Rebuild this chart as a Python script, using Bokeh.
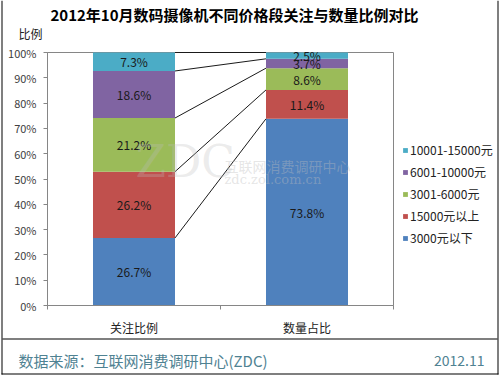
from bokeh.plotting import figure
from bokeh.models import (ColumnDataSource, Range1d, FixedTicker, NumeralTickFormatter,
                          Legend, LegendItem, Label, BoxAnnotation)
from bokeh.core.properties import value
from bokeh.embed import file_html
from bokeh.resources import INLINE

# ---- data ----
categories = ["关注比例", "数量占比"]
series = ["3000元以下", "15000元以上", "3001-6000元", "6001-10000元", "10001-15000元"]
colors = ["#4F81BD", "#C0504D", "#9BBB59", "#8064A2", "#4BACC6"]
attention = [26.7, 26.2, 21.2, 18.6, 7.3]
quantity = [73.8, 11.4, 8.6, 3.7, 2.5]
y_ticks = [0, 10, 20, 30, 40, 50, 60, 70, 80, 90, 100]
title_text = "2012年10月数码摄像机不同价格段关注与数量比例对比"
y_title = "比例"
source_text = "数据来源：互联网消费调研中心(ZDC)"
date_text = "2012.11"

CJK = "Noto Sans CJK SC"
W, H = 500, 375
FL, FT, FR, FB = 47, 52, 393, 305  # plot-area edges in page pixels
XPX = (FR - FL) / 2.0   # pixels per x unit (2 categories)
YPX = (FB - FT) / 1.0   # pixels per y unit (0..100%)

def sx(px):
    return px

def sy(py):
    return H - py

def label(px, py, text, **kw):
    return Label(x=sx(px), y=sy(py), x_units="screen", y_units="screen", text=text, **kw)

xs = [0.5, 1.5]
bar_w = 0.474
keys = [f"s{i}" for i in range(len(series))]
data = {"x": xs}
for i, k in enumerate(keys):
    data[k] = [attention[i] / 100, quantity[i] / 100]
src = ColumnDataSource(data)

x0 = -FL / XPX
y0 = -(H - FB) / YPX
p = figure(width=W, height=H, output_backend="svg", toolbar_location=None,
           x_range=Range1d(x0, x0 + W / XPX), y_range=Range1d(y0, y0 + H / YPX),
           min_border=0)
p.title.visible = False
p.background_fill_color = "white"
p.border_fill_color = "white"
p.outline_line_color = None
p.xgrid.visible = False
p.ygrid.visible = False

# plot-area border
p.quad(left=[0], right=[2], bottom=[0], top=[1], fill_color=None,
       line_color="#868686", line_width=1)

rs = p.vbar_stack(keys, x="x", width=bar_w, color=colors, source=src, line_width=0)

# axes (placed inside the canvas at the plot-area edges)
p.xaxis.fixed_location = 0
p.xaxis.bounds = (0, 2)
p.xaxis.ticker = FixedTicker(ticks=xs, minor_ticks=[0, 1, 2])
p.xaxis.major_label_overrides = {0.5: categories[0], 1.5: categories[1]}
p.xaxis.major_tick_out = 0
p.xaxis.major_tick_in = 0
p.xaxis.minor_tick_out = 4
p.xaxis.minor_tick_in = 0
p.xaxis.major_label_standoff = 9
p.xaxis.major_label_text_font = CJK
p.xaxis.major_label_text_font_size = "12px"
p.xaxis.major_label_text_color = "#222222"

p.yaxis.fixed_location = 0
p.yaxis.bounds = (0, 1)
p.yaxis.ticker = FixedTicker(ticks=[t / 100 for t in y_ticks])
p.yaxis.formatter = NumeralTickFormatter(format="0%")
p.yaxis.major_tick_out = 4
p.yaxis.major_tick_in = 0
p.yaxis.major_label_standoff = 7
p.yaxis.major_label_text_font = CJK
p.yaxis.major_label_text_font_size = "11px"
p.yaxis.major_label_text_color = "#404040"
for ax in (p.xaxis, p.yaxis):
    ax.axis_line_color = "#868686"
    ax.major_tick_line_color = "#868686"
    ax.minor_tick_line_color = "#868686"
p.yaxis.minor_tick_line_color = None

# watermark
wm_col = "#bdbdbd"
p.add_layout(label(135, 186, "ZDC", text_font="DejaVu Serif",
                   text_font_size="44px", text_color=wm_col, text_alpha=0.3))
p.add_layout(label(224, 165, "互联网消费调研中心", text_font=CJK,
                   text_font_size="14px", text_color=wm_col, text_alpha=0.4,
                   text_baseline="middle"))
p.add_layout(label(224, 179, "zdc.zol.com.cn", text_font="DejaVu Serif",
                   text_font_size="13px", text_color=wm_col, text_alpha=0.4,
                   text_baseline="middle"))

# connector lines
cl, cq = [], []
a = q = 0.0
for i in range(len(series)):
    a += attention[i] / 100
    q += quantity[i] / 100
    cl.append(a)
    cq.append(q)
p.segment(x0=[xs[0] + bar_w / 2] * len(cl), y0=cl, x1=[xs[1] - bar_w / 2] * len(cq), y1=cq,
          line_color="#1a1a1a", line_width=1)

# value labels
lx, ly, lt = [], [], []
for j, vals in enumerate([attention, quantity]):
    base = 0.0
    for v in vals:
        lx.append(xs[j])
        ly.append((base + v / 2) / 100)
        lt.append(f"{v:.1f}%")
        base += v
p.text(x=lx, y=ly, text=lt, text_align="center", text_baseline="middle",
       text_font=value(CJK), text_font_size="12px", text_color="#1a1a1a")

# legend (reverse order, top = last series)
items = [LegendItem(label=series[i], renderers=[rs[i]]) for i in reversed(range(len(series)))]
leg = Legend(items=items, location=(402, H - 246))
leg.glyph_width = 6
leg.glyph_height = 6
leg.label_height = 17
leg.spacing = 5
leg.padding = 0
leg.margin = 0
leg.label_standoff = 2
leg.border_line_color = None
leg.background_fill_alpha = 0
leg.label_text_font = CJK
leg.label_text_font_size = "12px"
leg.label_text_color = "#222222"
p.add_layout(leg)

# title and texts
p.add_layout(label(234, 14, title_text, text_font=CJK,
                   text_font_size="15px", text_font_style="bold", text_color="black",
                   text_align="center", text_baseline="middle"))
p.add_layout(label(30, 33, y_title, text_font=CJK,
                   text_font_size="12px", text_color="#222222",
                   text_align="center", text_baseline="middle"))
p.add_layout(label(18, 360, source_text, text_font=CJK,
                   text_font_size="15px", text_color="#4F8292",
                   text_align="left", text_baseline="middle"))
p.add_layout(label(484, 360, date_text, text_font=CJK,
                   text_font_size="14px", text_color="#4F8292",
                   text_align="right", text_baseline="middle"))

# outer frame lines
def hline(py, xa, xb):
    return BoxAnnotation(left=sx(xa), right=sx(xb), bottom=sy(py) - 0.5, top=sy(py) + 0.5,
                         left_units="screen", right_units="screen",
                         bottom_units="screen", top_units="screen",
                         fill_color="black", fill_alpha=1, line_color=None, level="overlay")

def vline(px, ya, yb):
    return BoxAnnotation(left=sx(px) - 0.5, right=sx(px) + 0.5, bottom=sy(yb), top=sy(ya),
                         left_units="screen", right_units="screen",
                         bottom_units="screen", top_units="screen",
                         fill_color="black", fill_alpha=1, line_color=None, level="overlay")

p.add_layout(hline(338.5, 2, 497))
p.add_layout(hline(373.5, 1, 498))
p.add_layout(vline(1.5, 0, 374))
p.add_layout(vline(497.5, 0, 374))

open("out.html", "w").write(file_html(p, INLINE))
